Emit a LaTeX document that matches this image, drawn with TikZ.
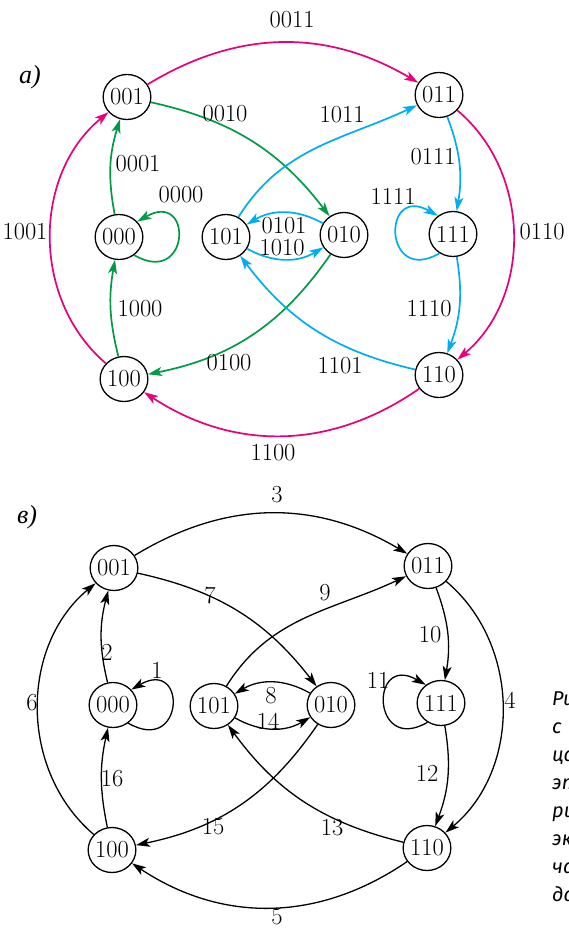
\documentclass[tikz,border=0pt]{standalone}
\usepackage{fontspec}
\usepackage{xcolor}
\usepackage{tikz}
\usetikzlibrary{arrows.meta, shapes.geometric}
\newfontfamily\cyrfont{Liberation Serif}
\newfontfamily\capfont{Fira Sans}
\definecolor{pink1}{RGB}{230,0,126}
\definecolor{green1}{RGB}{0,154,72}
\definecolor{cyan1}{RGB}{0,174,239}

\begin{document}
\begin{tikzpicture}[x=1pt, y=1pt,
  state/.style={ellipse, draw, line width=1.3pt, inner sep=0pt, minimum width=43pt, minimum height=45pt, font=\fontsize{24.5}{28}\selectfont},
  lbl/.style={inner sep=0pt, font=\fontsize{24.5}{28}\selectfont},
  tip/.style={-{Stealth[length=14pt, width=9pt, inset=3.5pt]}},
  pk/.style={tip, draw=pink1, line width=1.7pt},
  gr/.style={tip, draw=green1, line width=1.7pt},
  cy/.style={tip, draw=cyan1, line width=1.7pt},
  bk/.style={tip, draw=black, line width=1.3pt}]
\useasboundingbox (0,0) rectangle (568,-928);
\clip (0,0) rectangle (568,-928);

% a) colored graph
\node[lbl, font=\fontsize{26}{30}\selectfont\cyrfont\itshape] (ta) at (30,-77) {а)};
\node[state] (a001) at (127,-97) {001};
\node[state] (a011) at (439,-95) {011};
\node[state] (a000) at (119,-237) {000};
\node[state] (a101) at (226,-237) {101};
\node[state] (a010) at (344,-235) {010};
\node[state] (a111) at (453,-234) {111};
\node[state] (a100) at (124,-379) {100};
\node[state] (a110) at (439,-375) {110};

\draw[pk] (a001) to[bend left=31] (a011);
\draw[pk] (a011) to[bend left=50] (a110);
\draw[pk] (a110) to[bend left=34] (a100);
\draw[pk] (a100) to[bend left=50] (a001);
\draw[gr] (a000) to[bend left=14] (a001);
\draw[gr] (a100) to[bend left=12] (a000);
\draw[gr] (a001) to[bend left=20] (a010);
\draw[gr] (a010) to[bend left=22] (a100);
\draw[gr] (a000.-50) .. controls +(-30:65) and +(30:65) .. (a000.40);
\draw[cy] (a101) to[out=58, in=205] (a011);
\draw[cy] (a011) to[bend left=15] (a111);
\draw[cy] (a111) to[bend left=15] (a110);
\draw[cy] (a110) to[bend left=20] (a101);
\draw[cy] (a010) to[bend right=30] (a101);
\draw[cy] (a101) to[bend right=30] (a010);
\draw[cy] (a111.-125) .. controls +(210:65) and +(150:65) .. (a111.130);

\node[lbl] (t0011) at (292,-20) {0011};
\node[lbl] (t0010) at (225,-114) {0010};
\node[lbl] (t1011) at (342,-115) {1011};
\node[lbl] (t0001) at (138,-164) {0001};
\node[lbl] (t0000) at (181,-195) {0000};
\node[lbl] (t1001) at (25,-232) {1001};
\node[lbl] (t0111) at (433,-157) {0111};
\node[lbl] (t1111) at (393,-196) {1111};
\node[lbl] (t0110) at (542,-232) {0110};
\node[lbl] (t0101) at (284,-226) {0101};
\node[lbl] (t1010) at (282,-248) {1010};
\node[lbl] (t1000) at (140,-309) {1000};
\node[lbl] (t1110) at (429,-309) {1110};
\node[lbl] (t0100) at (229,-363) {0100};
\node[lbl] (t1101) at (340,-366) {1101};
\node[lbl] (t1100) at (273,-453) {1100};

% b) numbered graph
\node[lbl, font=\fontsize{26}{30}\selectfont\cyrfont\itshape] (tb) at (27,-517) {в)};
\node[state] (b001) at (114,-568) {001};
\node[state] (b011) at (428,-566) {011};
\node[state] (b000) at (113,-705) {000};
\node[state] (b101) at (214,-706) {101};
\node[state] (b010) at (331,-705) {010};
\node[state] (b111) at (441,-703) {111};
\node[state] (b100) at (112,-850) {100};
\node[state] (b110) at (427,-848) {110};

\draw[bk] (b001) to[bend left=31] (b011);
\draw[bk] (b011) to[bend left=50] (b110);
\draw[bk] (b110) to[bend left=34] (b100);
\draw[bk] (b100) to[bend left=50] (b001);
\draw[bk] (b000) to[bend left=14] (b001);
\draw[bk] (b100) to[bend left=12] (b000);
\draw[bk] (b001) to[bend left=20] (b010);
\draw[bk] (b010) to[bend left=22] (b100);
\draw[bk] (b000.-50) .. controls +(-30:65) and +(30:65) .. (b000.40);
\draw[bk] (b101) to[out=58, in=205] (b011);
\draw[bk] (b011) to[bend left=15] (b111);
\draw[bk] (b111) to[bend left=15] (b110);
\draw[bk] (b110) to[bend left=20] (b101);
\draw[bk] (b010) to[bend right=30] (b101);
\draw[bk] (b101) to[bend right=30] (b010);
\draw[bk] (b111.-125) .. controls +(210:65) and +(150:65) .. (b111.130);

\node[lbl] (n3) at (277,-495) {3};
\node[lbl] (n7) at (210,-595) {7};
\node[lbl] (n9) at (325,-593) {9};
\node[lbl] (n2) at (107,-652) {2};
\node[lbl] (n1) at (157,-670) {1};
\node[lbl] (n6) at (32,-703) {6};
\node[lbl] (n10) at (430,-635) {10};
\node[lbl] (n11) at (378,-680) {11};
\node[lbl] (n4) at (510,-700) {4};
\node[lbl] (n8) at (271,-696) {8};
\node[lbl] (n14) at (268,-721) {14};
\node[lbl] (n16) at (112,-779) {16};
\node[lbl] (n12) at (427,-773) {12};
\node[lbl] (n15) at (213,-827) {15};
\node[lbl] (n13) at (332,-828) {13};
\node[lbl] (n5) at (277,-917) {5};

% caption, cut at the edge
\node[inner sep=0pt, anchor=north west, align=left, font=\fontsize{20}{28}\selectfont\capfont\itshape] (cap) at (552,-692) {Ри\\с\\ца\\эт\\ри\\эк\\ча\\да};
\end{tikzpicture}
\end{document}
